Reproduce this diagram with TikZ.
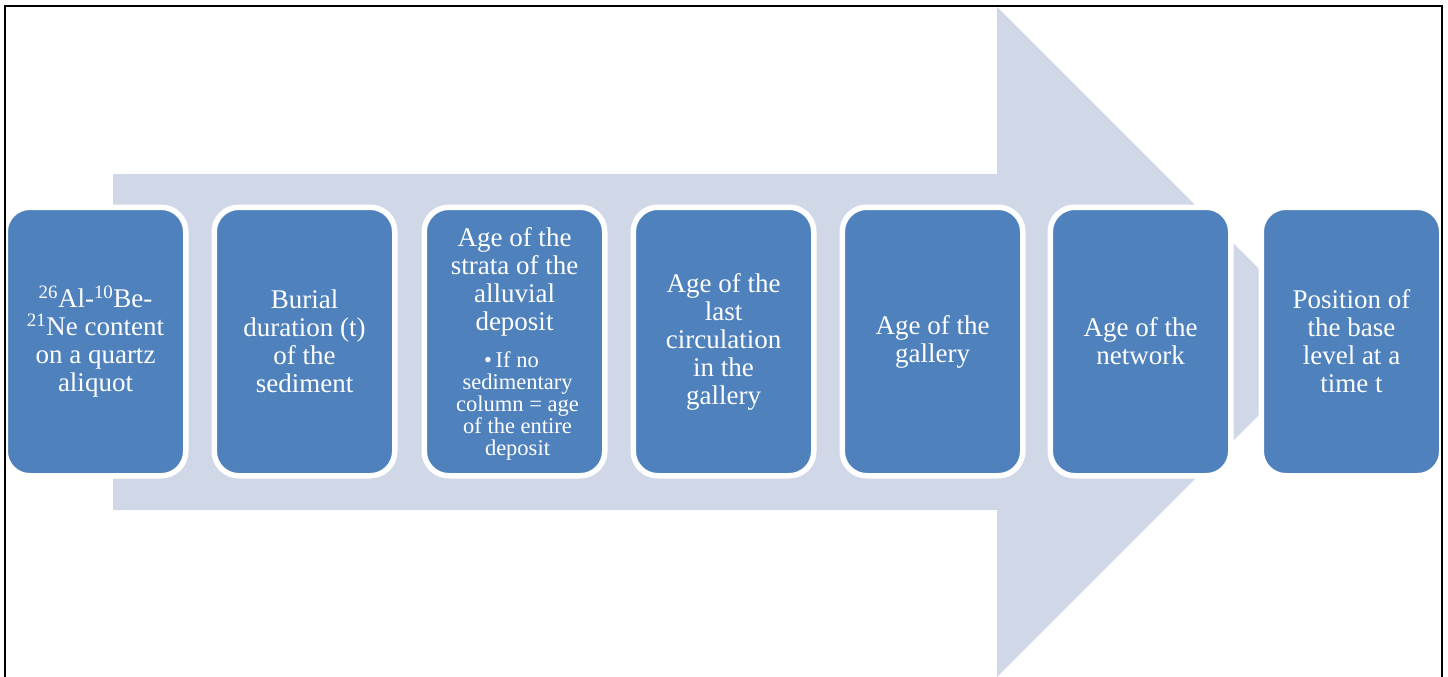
\documentclass[tikz,border=0pt]{standalone}
\usepackage{fontspec}
\setmainfont{Liberation Serif}
\usetikzlibrary{positioning}
\definecolor{boxblue}{HTML}{4F81BD}
\definecolor{arrowgray}{HTML}{D0D8E8}
\tikzset{
  stepbox/.style={draw=white, line width=5.5pt, fill=boxblue, rounded corners=24.5pt,
    minimum width=180.5pt, minimum height=268.5pt, inner sep=0pt, text=white,
    align=center, font=\fontsize{27}{28}\selectfont},
  steptext/.style={text=white, align=center, inner sep=0pt,
    font=\fontsize{27}{28}\selectfont},
  subtext/.style={text=white, align=center, inner sep=0pt,
    font=\fontsize{22.5}{22}\selectfont},
  bigarrow/.style={fill=arrowgray, draw=none},
  frame/.style={draw=black, line width=2pt}
}
\begin{document}
\begin{tikzpicture}[x=1pt,y=-1pt]
\useasboundingbox (0,0) rectangle (1448,677);
% background arrow
\coordinate (a1) at (113,174);
\coordinate (a2) at (997,174);
\coordinate (a3) at (997,7);
\coordinate (tip) at (1332,342);
\coordinate (a5) at (997,677);
\coordinate (a6) at (997,510);
\coordinate (a7) at (113,510);
\fill[bigarrow] (a1) -- (a2) -- (a3) -- (tip) -- (a5) -- (a6) -- (a7) -- cycle;
% boxes
\node[stepbox] (b1) at (95.5,341.5) {\textsuperscript{26}Al-\textsuperscript{10}Be-\\\textsuperscript{21}Ne content\\on a quartz\\aliquot};
\node[stepbox] (b2) at (304.5,341.5) {Burial\\duration (t)\\of the\\sediment};
\node[stepbox] (b3) at (514.5,341.5) {};
\node[steptext, anchor=north] (b3t) at (514.5,227) {Age of the\\strata of the\\alluvial\\deposit};
\node[subtext, below=15pt of b3t, xshift=3pt] (b3s) {\hspace*{-12pt}\textbullet\,If no\\sedimentary\\column = age\\of the entire\\deposit};
\node[stepbox] (b4) at (723.5,341.5) {Age of the\\last\\circulation\\in the\\gallery};
\node[stepbox] (b5) at (932.5,341.5) {Age of the\\gallery};
\node[stepbox] (b6) at (1140.5,341.5) {Age of the\\network};
\node[stepbox] (b7) at (1351.5,341.5) {Position of\\the base\\level at a\\time t};
% frame
\draw[frame] (5,6) rectangle (1441.5,700);
\end{tikzpicture}
\end{document}
